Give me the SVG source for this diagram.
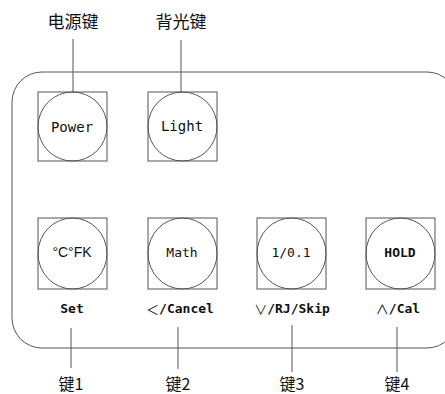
<svg xmlns="http://www.w3.org/2000/svg" width="445" height="394" viewBox="0 0 445 394">
<style>
.b{fill:none;stroke:#555;stroke-width:1}
.c{fill:none;stroke:#555;stroke-width:1}
.l{stroke:#555;stroke-width:1}
.t{font-family:"DejaVu Sans Mono","Liberation Mono",monospace;font-size:14px;fill:#111;text-anchor:middle;dominant-baseline:central}
.s{font-family:"DejaVu Sans Mono","Noto Sans CJK SC",monospace;font-size:13px;font-weight:bold;fill:#111;text-anchor:middle;dominant-baseline:central}
.g{font-family:"Noto Sans CJK SC",sans-serif;font-weight:normal}
.z{font-family:"Noto Sans CJK SC",sans-serif;font-size:16px;fill:#111;text-anchor:middle;dominant-baseline:central}
</style>
<rect x="0" y="0" width="445" height="394" fill="#fff"/>
<rect id="panel" x="12" y="72" width="445" height="276" rx="30" ry="30" class="b"/>
<g id="connectors">
<line class="l" x1="73" y1="39" x2="73" y2="92"/>
<line class="l" x1="181" y1="40" x2="181" y2="92"/>
<line class="l" x1="71" y1="328" x2="71" y2="368"/>
<line class="l" x1="178" y1="327" x2="178" y2="369"/>
<line class="l" x1="292" y1="325" x2="292" y2="372"/>
<line class="l" x1="397" y1="327" x2="397" y2="372"/>
</g>
<g id="label-power"><text class="z" x="73" y="20" style="font-size:17px">电源键</text></g>
<g id="label-light"><text class="z" x="181" y="20" style="font-size:17px">背光键</text></g>
<g id="key-power">
<rect class="b" x="38" y="92" width="69" height="69"/>
<circle class="c" cx="72.5" cy="126.5" r="34.5"/>
<text class="t" x="72" y="127">Power</text>
</g>
<g id="key-light">
<rect class="b" x="148" y="92" width="69" height="69"/>
<circle class="c" cx="182.5" cy="126.5" r="34.5"/>
<text class="t" x="182" y="126">Light</text>
</g>
<g id="key1">
<rect class="b" x="38" y="218" width="69" height="71"/>
<ellipse class="c" cx="72.5" cy="253.5" rx="34.5" ry="35.5"/>
<text class="t" x="72" y="252" style="font-family:'Liberation Sans',sans-serif">°C°FK</text>
<text class="s" x="72" y="308">Set</text>
<text class="z" x="71" y="383">键1</text>
</g>
<g id="key2">
<rect class="b" x="148" y="218" width="69" height="71"/>
<ellipse class="c" cx="182.5" cy="253.5" rx="34.5" ry="35.5"/>
<text class="t" x="182" y="252" style="font-size:13px">Math</text>
<text class="s" x="180" y="308"><tspan class="g">＜</tspan>/Cancel</text>
<text class="z" x="178" y="383">键2</text>
</g>
<g id="key3">
<rect class="b" x="257" y="218" width="69" height="71"/>
<ellipse class="c" cx="291.5" cy="253.5" rx="34.5" ry="35.5"/>
<text class="t" x="291" y="252" style="font-size:13px">1/0.1</text>
<text class="s" x="292" y="308"><tspan class="g">∨</tspan>/RJ/Skip</text>
<text class="z" x="292" y="383">键3</text>
</g>
<g id="key4">
<rect class="b" x="366" y="218" width="69" height="71"/>
<ellipse class="c" cx="400.5" cy="253.5" rx="34.5" ry="35.5"/>
<text class="t" x="400" y="252" style="font-size:13px;font-weight:bold">HOLD</text>
<text class="s" x="398" y="308"><tspan class="g">∧</tspan>/Cal</text>
<text class="z" x="397" y="383">键4</text>
</g>
</svg>
